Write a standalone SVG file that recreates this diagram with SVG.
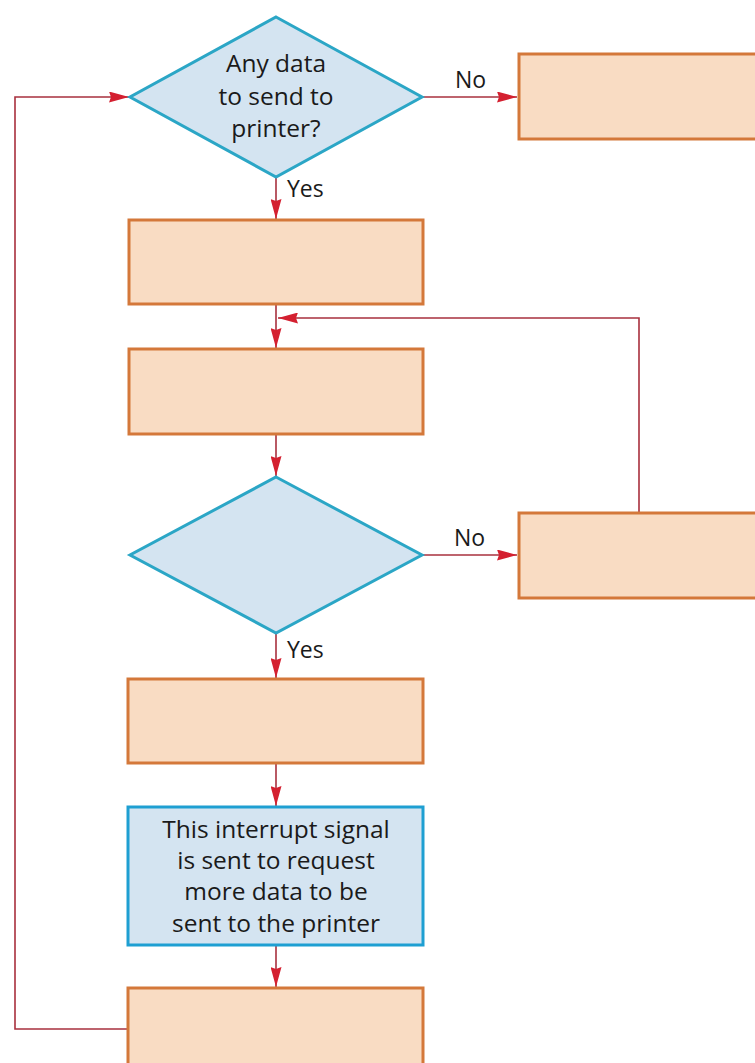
<svg xmlns="http://www.w3.org/2000/svg" width="755" height="1063" viewBox="0 0 755 1063">
<style>
.box{fill:#F9DCC3;stroke:#D4783A;stroke-width:3}
.dec{fill:#D4E4F1;stroke:#2BA6C6;stroke-width:3}
.note{fill:#D4E4F1;stroke:#1E9FD2;stroke-width:3}
.con{fill:none;stroke:#A8303E;stroke-width:1.6}
.t{font-family:"Open Sans","Liberation Sans",sans-serif;font-size:24.5px;fill:#1a1a1a;text-anchor:middle}
.lbl{font-family:"Open Sans","Liberation Sans",sans-serif;font-size:23px;fill:#1a1a1a}
</style>
<defs>
<marker id="arr" viewBox="0 0 20 11" refX="20" refY="5.5" markerWidth="20" markerHeight="11" markerUnits="userSpaceOnUse" orient="auto">
<path d="M0,0 L20,5.5 L0,11 L2,5.5 Z" fill="#D42030"/>
</marker>
</defs>
<rect width="755" height="1063" fill="#ffffff"/>
<g id="connectors">
<path class="con" d="M276,177 V219" marker-end="url(#arr)"/>
<path class="con" d="M422,97 H517" marker-end="url(#arr)"/>
<path class="con" d="M276,304 V348" marker-end="url(#arr)"/>
<path class="con" d="M639,513 V318 H278" marker-end="url(#arr)"/>
<path class="con" d="M276,434 V476" marker-end="url(#arr)"/>
<path class="con" d="M422,555 H517" marker-end="url(#arr)"/>
<path class="con" d="M276,633 V678" marker-end="url(#arr)"/>
<path class="con" d="M276,763 V806" marker-end="url(#arr)"/>
<path class="con" d="M276,945 V987" marker-end="url(#arr)"/>
<path class="con" d="M128,1029 H15 V97 H129" marker-end="url(#arr)"/>
<text class="lbl" x="455" y="88">No</text>
<text class="lbl" x="287" y="197">Yes</text>
<text class="lbl" x="454" y="546">No</text>
<text class="lbl" x="287" y="658">Yes</text>
</g>
<g id="decision1">
<polygon class="dec" points="276,17 422,97 276,177 130,97"/>
<text class="t" x="276" y="72">Any data</text>
<text class="t" x="276" y="105">to send to</text>
<text class="t" x="276" y="137">printer?</text>
</g>
<g id="box-no1"><rect class="box" x="519" y="54" width="250" height="85"/></g>
<g id="box2"><rect class="box" x="129" y="220" width="294" height="84"/></g>
<g id="box3"><rect class="box" x="129" y="349" width="294" height="85"/></g>
<g id="decision2"><polygon class="dec" points="276,477 422,555 276,633 130,555"/></g>
<g id="box-no2"><rect class="box" x="519" y="513" width="250" height="85"/></g>
<g id="box5"><rect class="box" x="128" y="679" width="295" height="84"/></g>
<g id="interrupt">
<rect class="note" x="128" y="807" width="295" height="138"/>
<text class="t" x="276" y="838">This interrupt signal</text>
<text class="t" x="276" y="869">is sent to request</text>
<text class="t" x="276" y="900">more data to be</text>
<text class="t" x="276" y="932">sent to the printer</text>
</g>
<g id="box7"><rect class="box" x="128" y="988" width="295" height="90"/></g>
</svg>
